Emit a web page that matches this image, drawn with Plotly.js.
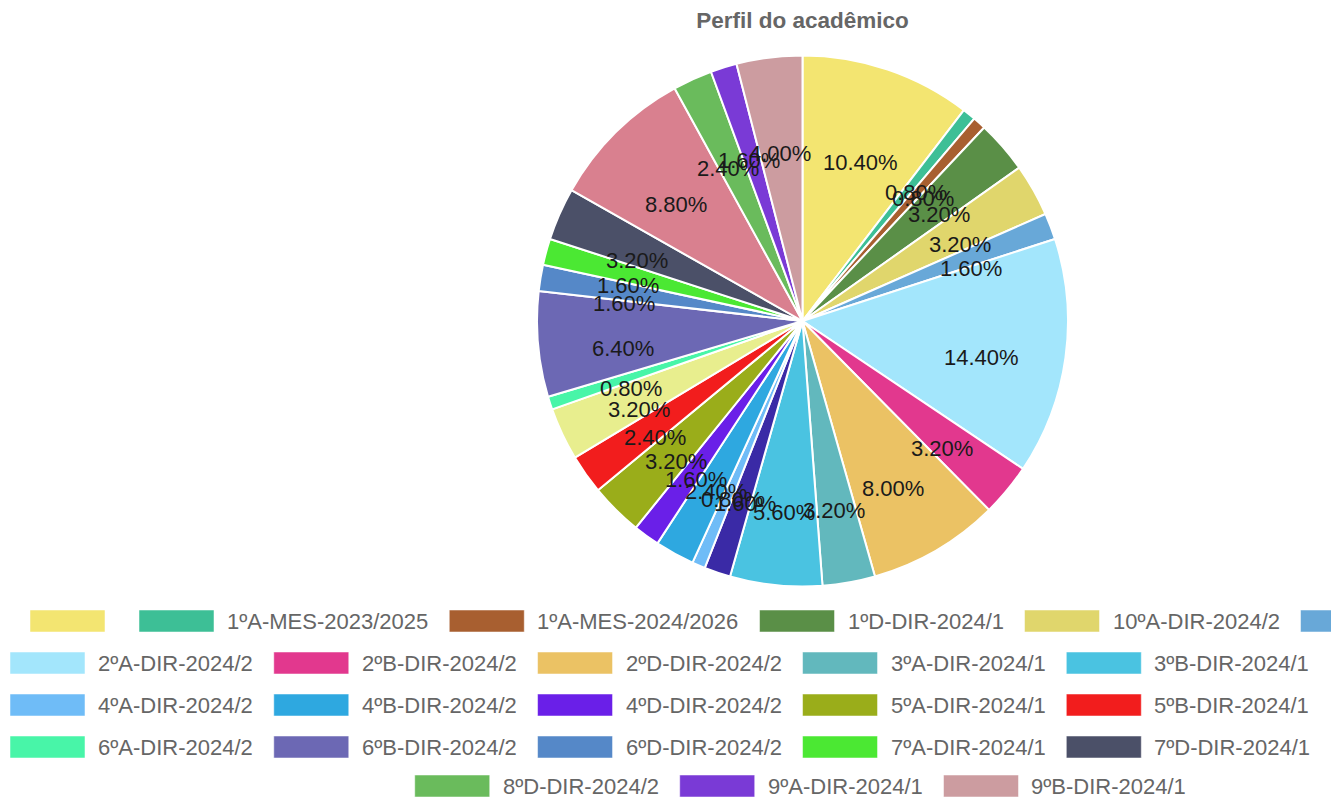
<!DOCTYPE html>
<html>
<head>
<meta charset="utf-8">
<script src="https://cdn.plot.ly/plotly-3.0.1.min.js"></script>
<style>
html,body{margin:0;padding:0;background:#fff;}
#chart{width:1331px;height:798px;}
</style>
</head>
<body>
<div id="chart"></div>
<script>
// ---- data ----
const turmas = [
  "", "1ºA-MES-2023/2025", "1ºA-MES-2024/2026", "1ºD-DIR-2024/1", "10ºA-DIR-2024/2", "10ºB-DIR-2024/2",
  "2ºA-DIR-2024/2", "2ºB-DIR-2024/2", "2ºD-DIR-2024/2", "3ºA-DIR-2024/1", "3ºB-DIR-2024/1", "3ºD-DIR-2024/1",
  "4ºA-DIR-2024/2", "4ºB-DIR-2024/2", "4ºD-DIR-2024/2", "5ºA-DIR-2024/1", "5ºB-DIR-2024/1", "5ºD-DIR-2024/1",
  "6ºA-DIR-2024/2", "6ºB-DIR-2024/2", "6ºD-DIR-2024/2", "7ºA-DIR-2024/1", "7ºD-DIR-2024/1", "8ºA-DIR-2024/2",
  "8ºD-DIR-2024/2", "9ºA-DIR-2024/1", "9ºB-DIR-2024/1"
];
const percentuais = [
  10.4, 0.8, 0.8, 3.2, 3.2, 1.6,
  14.4, 3.2, 8.0, 3.2, 5.6, 1.6,
  0.8, 2.4, 1.6, 3.2, 2.4, 3.2,
  0.8, 6.4, 1.6, 1.6, 3.2, 8.8,
  2.4, 1.6, 4.0
];
const cores = [
  "#f3e571", "#3dbf96", "#a85f30", "#5a8f47", "#e0d66c", "#68a8d8",
  "#a3e6fc", "#e2388e", "#ebc264", "#62b8bd", "#4ac3e1", "#3a2aa6",
  "#6fbcf7", "#2ea8e0", "#6a1fe8", "#9aad1a", "#f21d1d", "#e8ee8e",
  "#48f5a8", "#6c68b4", "#5588c8", "#4be833", "#4b5068", "#d9808f",
  "#6abb5c", "#7a3ad6", "#cc9ca0"
];
const titulo = "Perfil do acadêmico";

// ---- layout constants ----
const W = 1331, H = 798;
const CX = 802.5, CY = 321, R = 265.5;
const FONT = '"Liberation Sans", Arial, sans-serif';

const pie = {
  type: 'pie',
  labels: turmas,
  values: percentuais,
  sort: false,
  direction: 'clockwise',
  rotation: 0,
  textinfo: 'none',
  hovertemplate: '%{label}: %{percent}<extra></extra>',
  marker: {colors: cores, line: {color: '#ffffff', width: 2}},
  domain: {x: [(CX - R) / W, (CX + R) / W], y: [1 - (CY + R) / H, 1 - (CY - R) / H]},
  showlegend: false
};

const annotations = [];
const shapes = [];

// percentage labels inside slices, positioned from the cumulative values
const total = percentuais.reduce((a, b) => a + b, 0);
let acc = 0;
const LR = 0.68 * R, LDY = 12;
percentuais.forEach((v) => {
  const mid = (acc + v / 2) / total * 2 * Math.PI;
  acc += v;
  const px = CX + LR * Math.sin(mid);
  const py = CY - LR * Math.cos(mid) + LDY;
  annotations.push({
    xref: 'paper', yref: 'paper', x: px / W, y: 1 - py / H,
    xanchor: 'center', yanchor: 'middle', showarrow: false,
    text: (v / total * 100).toFixed(2) + '%',
    font: {family: FONT, size: 22, color: '#1a1a1a'}
  });
});

// custom legend (boxes + names), flowing six per row
const LEG_SIZE = 22;
const canvas = document.createElement('canvas');
const ctx = canvas.getContext('2d');
ctx.font = LEG_SIZE + 'px "Liberation Sans"';
const BOXW = 75, BOXH = 22, GAP_TXT = 12, GAP_ITEM = 22, PER_ROW = 6;
const rowStarts = [30, 10, 10, 10, null];   // null: centred row
const rowCentre = 800;
const rowY = [621, 663, 705, 747, 786];
const itemW = turmas.map(n => BOXW + GAP_TXT + ctx.measureText(n).width);
const nRows = Math.ceil(turmas.length / PER_ROW);
for (let row = 0; row < nRows; row++) {
  const idx = [];
  for (let i = row * PER_ROW; i < Math.min(turmas.length, (row + 1) * PER_ROW); i++) idx.push(i);
  const rowW = idx.reduce((s, i) => s + itemW[i], 0) + GAP_ITEM * (idx.length - 1);
  let x = rowStarts[row] !== null ? rowStarts[row] : rowCentre - rowW / 2;
  const yc = rowY[row];
  idx.forEach(i => {
    if (x < W - 3) {
      shapes.push({
        type: 'rect', xref: 'paper', yref: 'paper',
        x0: x / W, x1: (x + BOXW) / W,
        y0: 1 - (yc + BOXH / 2) / H, y1: 1 - (yc - BOXH / 2) / H,
        fillcolor: cores[i], line: {color: 'rgba(255,255,255,0.5)', width: 1}
      });
    }
    const tx = x + BOXW + GAP_TXT;
    if (turmas[i] && tx < W - 20) {
      annotations.push({
        xref: 'paper', yref: 'paper', x: tx / W, y: 1 - yc / H,
        xanchor: 'left', yanchor: 'middle', showarrow: false, text: turmas[i],
        height: 24, borderpad: 0,
        font: {family: FONT, size: LEG_SIZE, color: '#666666'}
      });
    }
    x += itemW[i] + GAP_ITEM;
  });
}

const layout = {
  width: W, height: H,
  margin: {l: 0, r: 0, t: 0, b: 0},
  paper_bgcolor: '#ffffff',
  title: {
    text: titulo,
    font: {family: FONT, size: 22.5, color: '#666666', weight: 'bold'},
    x: CX / W, xanchor: 'center', xref: 'paper',
    y: 1 - 20 / H, yanchor: 'middle', yref: 'container'
  },
  showlegend: false,
  annotations: annotations,
  shapes: shapes
};

Plotly.newPlot('chart', [pie], layout, {displayModeBar: false, staticPlot: true});
</script>
</body>
</html>
